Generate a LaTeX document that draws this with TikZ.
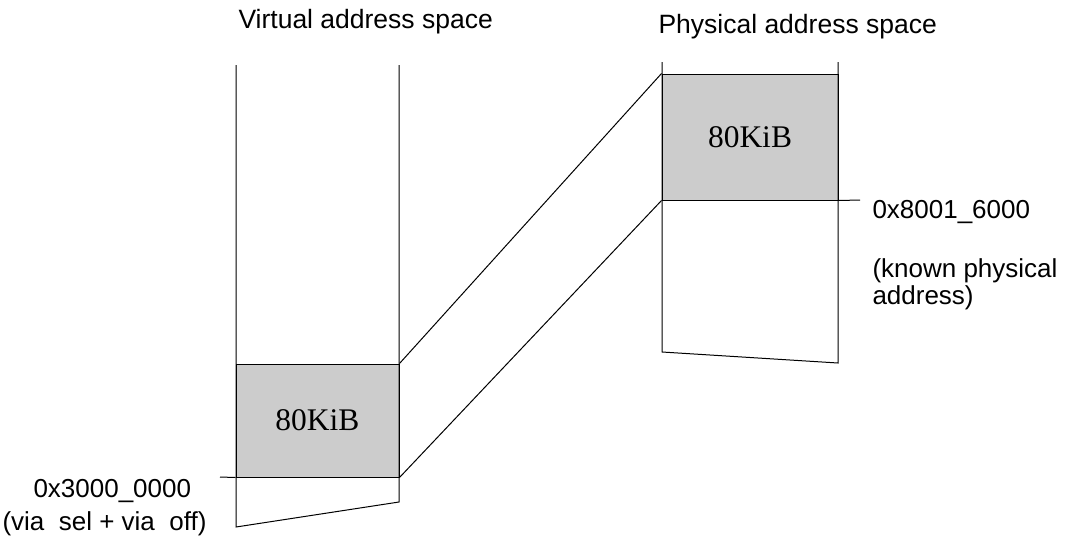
\documentclass[tikz,border=0pt]{standalone}
\usepackage{fontspec}
\setmainfont{Liberation Sans}
\newfontfamily\serifface{Liberation Serif}
\begin{document}
\begin{tikzpicture}[x=1pt, y=-1pt, line width=1pt,
  block/.style={draw=black, fill=black!20, inner sep=0pt,
    font=\serifface\fontsize{31.5}{36}\selectfont},
  title/.style={anchor=base west, inner sep=0pt,
    font=\fontsize{26.5}{30}\selectfont},
  addr/.style={anchor=base west, inner sep=0pt,
    font=\fontsize{26}{30}\selectfont},
  rim/.style={draw=black, line width=1pt}]
\useasboundingbox (0,0) rectangle (1068,542);

% titles
\node[title] (vtitle) at (238,28) {Virtual address space};
\node[title] (ptitle) at (658,33) {Physical address space};

% mapped regions
\node[block, minimum width=163pt, minimum height=113pt] (vbox) at (317.5,420.5) {80KiB};
\node[block, minimum width=176pt, minimum height=126pt] (pbox) at (750,137) {80KiB};

% virtual address space column
\coordinate (vtl) at (236,65);
\coordinate (vtr) at (399,65);
\coordinate (vbl) at (236,527);
\coordinate (vbr) at (399,502);
\draw[rim] (vtl) -- (vbl) -- (vbr) -- (vtr);

% physical address space column
\coordinate (ptl) at (662,62);
\coordinate (ptr) at (838,62);
\coordinate (pbl) at (662,352);
\coordinate (pbr) at (838,363);
\draw[rim] (ptl) -- (pbl) -- (pbr) -- (ptr);

% mapping lines
\draw[rim] (vbox.north east) -- (pbox.north west);
\draw[rim] (vbox.south east) -- (pbox.south west);

% address ticks and labels
\coordinate (vtick) at (220,477);
\coordinate (ptick) at (860,200);
\draw[rim] (vtick) -- (vbox.south west);
\draw[rim] (pbox.south east) -- (ptick);

\node[addr] (vaddr) at (33,497) {0x3000\_0000};
\node[addr] (vnote) at (2,530) {(via~~sel + via~~off)};
\node[addr] (paddr) at (872,218) {0x8001\_6000};
\node[addr] (pnote1) at (872,277) {(known physical};
\node[addr] (pnote2) at (872,304) {address)};
\end{tikzpicture}
\end{document}
